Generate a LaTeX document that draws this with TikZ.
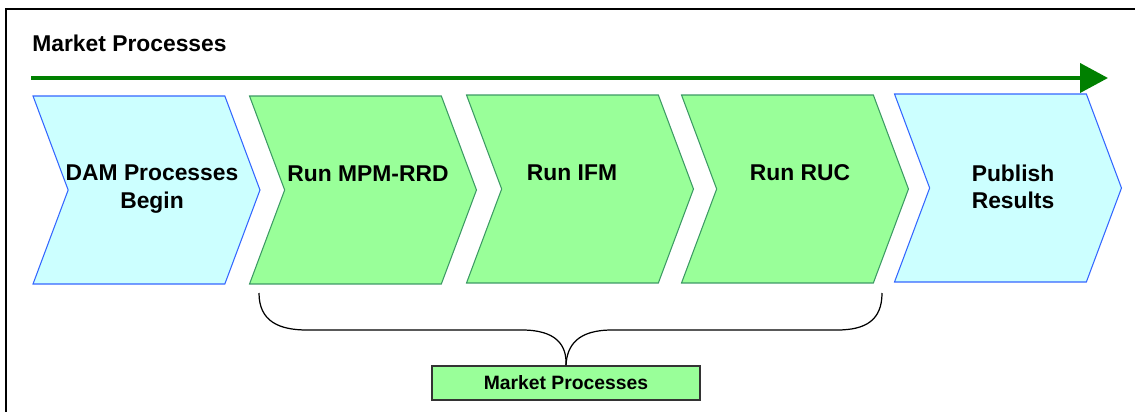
\documentclass[tikz,border=0pt]{standalone}
\usepackage{fontspec}
\setmainfont{Liberation Sans}
\usetikzlibrary{arrows.meta, positioning, shapes.symbols}

\definecolor{dayfill}{HTML}{CCFFFF}
\definecolor{dayline}{HTML}{3366FF}
\definecolor{mktfill}{HTML}{99FF99}
\definecolor{mktline}{HTML}{3C9A64}
\definecolor{flowgreen}{HTML}{008000}

\tikzset{
    chevron/.style={signal, signal to=east, signal from=west,
        signal pointer angle=139, line width=0.6pt, inner sep=0pt,
        minimum width=4.54cm, minimum height=3.76cm},
    daystep/.style={chevron, fill=dayfill, draw=dayline},
    mktstep/.style={chevron, fill=mktfill, draw=mktline},
    steptext/.style={font=\fontsize{13}{15.6}\selectfont\bfseries, align=center},
}

\begin{document}
\begin{tikzpicture}[x=0.02cm, y=-0.02cm]
    \useasboundingbox (0,0) rectangle (1135,412);

    % -------------------------------------------------------------
    % frame and heading
    % -------------------------------------------------------------
    \draw[line width=1.2pt] (6,440) -- (6,9) -- (1160,9);
    \node[steptext, anchor=west, inner sep=0pt] (title) at (32,43) {Market Processes};

    \coordinate (flowA) at (31,78);
    \coordinate (flowB) at (1108,78);
    \draw[flowgreen, line width=2.3pt,
          -{Triangle[length=0.56cm, width=0.58cm]}] (flowA) -- (flowB);

    % -------------------------------------------------------------
    % the five steps
    % -------------------------------------------------------------
    \node[daystep] (dam)  at (146.5,190) {};
    \node[mktstep] (mpm)  at (363,190) {};
    \node[mktstep] (ifm)  at (580,189) {};
    \node[mktstep] (ruc)  at (795,189) {};
    \node[daystep] (pub)  at (1008,188) {};

    \node[steptext] (damT) at (152,189) {DAM Processes\\Begin};
    \node[steptext] (mpmT) at (368,174) {Run MPM-RRD};
    \node[steptext] (ifmT) at (572,173) {Run IFM};
    \node[steptext] (rucT) at (800,173) {Run RUC};
    \node[steptext] (pubT) at (1013,187) {Publish\\Results};

    % -------------------------------------------------------------
    % brace over the market runs
    % -------------------------------------------------------------
    \node[draw=black!80, fill=mktfill, line width=0.9pt, inner sep=0pt,
          minimum width=5.36cm, minimum height=0.68cm,
          font=\fontsize{11}{13}\selectfont\bfseries] (mkt) at (566,383) {Market Processes};

    \coordinate (braceL) at (259,293);
    \coordinate (braceR) at (882,293);
    \draw[line width=0.7pt] (braceL) .. controls (259,322) and (280,330) .. (307,330)
        -- (522,330) .. controls (556,330) and (567,345) .. (mkt.north);
    \draw[line width=0.7pt] (mkt.north) .. controls (567,345) and (578,330) .. (612,330)
        -- (837,330) .. controls (866,330) and (882,320) .. (braceR);
\end{tikzpicture}
\end{document}
